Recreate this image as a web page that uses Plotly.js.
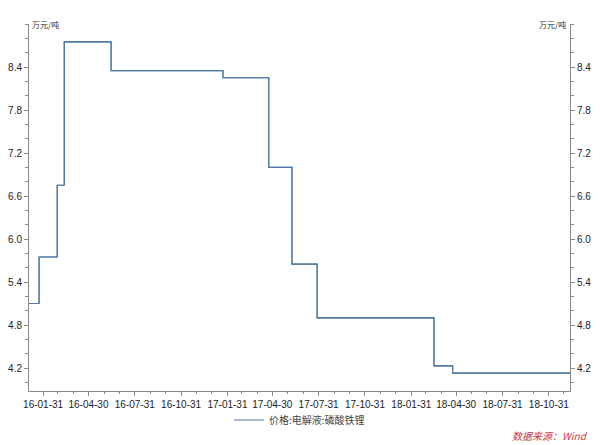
<!DOCTYPE html>
<html>
<head>
<meta charset="utf-8">
<script src="https://cdn.plot.ly/plotly-3.0.1.min.js"></script>
<style>html,body{margin:0;padding:0;background:#fff;}#chart{width:600px;height:445px;}</style>
</head>
<body>
<div id="chart"></div>
<script>
// Step dates (change points) and price levels (万元/吨)
const dates = ['2016-01-03','2016-01-23','2016-02-28','2016-03-13','2016-06-14','2017-01-22','2017-04-23','2017-06-08','2017-07-28','2018-03-17','2018-04-23','2018-12-12'];
const values = [5.10, 5.75, 6.75, 8.75, 8.35, 8.25, 7.00, 5.65, 4.90, 4.23, 4.13, 4.13];
const seriesName = '价格:电解液:磷酸铁锂';
const unitLabel = '万元/吨';
const sourceLabel = '数据来源：Wind';
const xTickVals = ['2016-01-31','2016-04-30','2016-07-31','2016-10-31','2017-01-31','2017-04-30','2017-07-31','2017-10-31','2018-01-31','2018-04-30','2018-07-31','2018-10-31'];
const xTickText = ['16-01-31','16-04-30','16-07-31','16-10-31','17-01-31','17-04-30','17-07-31','17-10-31','18-01-31','18-04-30','18-07-31','18-10-31'];
const yTickVals = [4.2, 4.8, 5.4, 6.0, 6.6, 7.2, 7.8, 8.4];
const yTickText = ['4.2', '4.8', '5.4', '6.0', '6.6', '7.2', '7.8', '8.4'];

// monthly minor ticks at month ends
const minorVals = [];
for (let y = 2016; y <= 2018; y++) {
  for (let m = 1; m <= 12; m++) {
    const d = new Date(Date.UTC(y, m, 0));
    minorVals.push(d.toISOString().slice(0,10));
  }
}

const lineColor = '#4c77a0';
const axisColor = '#8a8a8a';
const font = 'Liberation Sans, Arial, Noto Sans CJK SC, sans-serif';
const cjk = 'Noto Sans CJK SC, sans-serif';

const traces = [
  {x: dates, y: values, type: 'scatter', mode: 'lines', name: seriesName,
   line: {color: lineColor, width: 1.1, shape: 'hv'}, hoverinfo: 'skip'},
  {x: dates, y: values, type: 'scatter', mode: 'lines', yaxis: 'y2', showlegend: false,
   line: {color: lineColor, width: 1.1, shape: 'hv'}, hoverinfo: 'skip'}
];

const yCommon = {
  range: [3.88, 9.0], tickmode: 'array', tickvals: yTickVals, ticktext: yTickText,
  ticks: 'outside', ticklen: 4, tickcolor: axisColor, showgrid: false, zeroline: false,
  showline: true, linecolor: axisColor, linewidth: 1,
  tickfont: {family: font, size: 10, color: '#222'},
  minor: {tickmode: 'linear', tick0: 4.2, dtick: 0.2, ticks: 'outside', ticklen: 3, tickcolor: axisColor, showgrid: false}
};

const layout = {
  width: 600, height: 445,
  margin: {l: 29, r: 30, t: 24, b: 53},
  paper_bgcolor: '#fff', plot_bgcolor: '#fff',
  showlegend: true,
  legend: {orientation: 'h', x: 0.5, xanchor: 'center', y: -0.076, yanchor: 'middle',
           font: {family: cjk, size: 10, color: '#444'}, itemwidth: 30, bgcolor: 'rgba(0,0,0,0)'},
  xaxis: {
    type: 'date', range: ['2016-01-03', '2018-12-12'],
    tickmode: 'array', tickvals: xTickVals, ticktext: xTickText,
    ticks: 'outside', ticklen: 4, tickcolor: axisColor, showgrid: false, zeroline: false,
    showline: true, linecolor: axisColor, linewidth: 1,
    tickfont: {family: font, size: 10, color: '#222'},
    minor: {tickmode: 'array', tickvals: minorVals, ticks: 'outside', ticklen: 2, tickcolor: axisColor, showgrid: false}
  },
  yaxis: Object.assign({}, yCommon, {side: 'left'}),
  yaxis2: Object.assign({}, yCommon, {side: 'right', overlaying: 'y',
    minor: Object.assign({}, yCommon.minor)}),
  annotations: [
    {xref: 'paper', yref: 'paper', x: 0, y: 1, xanchor: 'left', yanchor: 'middle', xshift: 1,
     text: unitLabel, showarrow: false, font: {family: cjk, size: 8, color: '#333'}},
    {xref: 'paper', yref: 'paper', x: 1, y: 1, xanchor: 'right', yanchor: 'middle', xshift: -2,
     text: unitLabel, showarrow: false, font: {family: cjk, size: 8, color: '#333'}},
    {xref: 'paper', yref: 'paper', x: 1.037, y: -0.122, xanchor: 'right', yanchor: 'middle',
     text: '<i>' + sourceLabel + '</i>', showarrow: false, font: {family: cjk, size: 10, color: '#c9363c'}}
  ]
};

Plotly.newPlot('chart', traces, layout, {displayModeBar: false, staticPlot: true});
</script>
</body>
</html>
